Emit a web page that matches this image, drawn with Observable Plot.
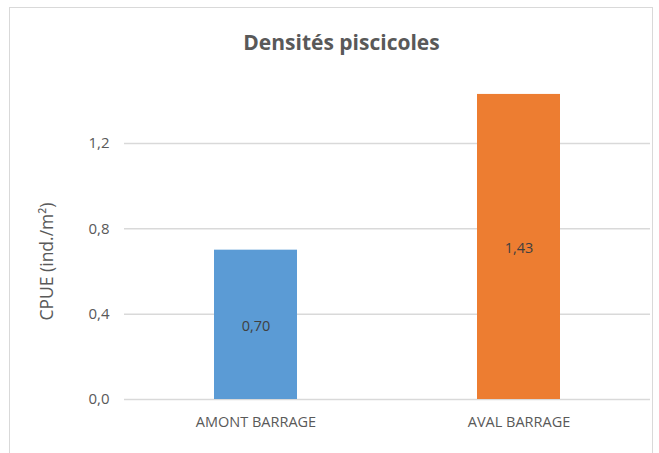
<!DOCTYPE html>
<html><head><meta charset="utf-8">
<script src="https://cdn.jsdelivr.net/npm/d3@7"></script>
<script src="https://cdn.jsdelivr.net/npm/@observablehq/plot@0.6"></script>
<style>
html,body{margin:0;padding:0;background:#fff;}
#wrap{position:relative;width:659px;height:453px;overflow:hidden;font-family:"Open Sans",sans-serif;}
#frame{position:absolute;left:9px;top:7px;width:644px;height:470px;border:1.5px solid #d9d9d9;box-sizing:border-box;}
#chart{position:absolute;left:0;top:0;}
</style></head>
<body><div id="wrap"><div id="frame"></div><div id="chart"></div></div>
<script>
const categories = ["AMONT BARRAGE", "AVAL BARRAGE"];
const values = [0.70, 1.43];
const colors = ["#5B9BD5", "#ED7D31"];
const yTicks = [0, 0.4, 0.8, 1.2];
const title = "Densités piscicoles";
const yLabel = "CPUE (ind./m²)";

const data = categories.map((c, i) => ({cat: c, v: values[i], col: colors[i]}));
const fmt = v => d3.format(".2f")(v).replace(".", ",");
const fmtTick = v => d3.format(".1f")(v).replace(".", ",");

const plot = Plot.plot({
  width: 659, height: 453,
  marginLeft: 124, marginRight: 9, marginTop: 79, marginBottom: 54,
  style: {fontFamily: "Open Sans, sans-serif", background: "transparent", overflow: "visible"},
  x: {domain: categories, paddingInner: 0.685, paddingOuter: 0.34, label: null},
  y: {domain: [0, 1.5], label: null},
  marks: [
    Plot.ruleY(yTicks, {stroke: "#d9d9d9", strokeWidth: 1.5}),
    Plot.barY(data, {x: "cat", y: "v", fill: "col"}),
    Plot.text(data, {x: "cat", y: d => d.v / 2, text: d => fmt(d.v), dy: 1.5, fill: "#404040", fontSize: 14.5}),
    Plot.axisY(yTicks, {tickSize: 0, tickPadding: 15, tickFormat: fmtTick, fontSize: 15, color: "#595959", label: null}),
    Plot.axisX({tickSize: 0, tickPadding: 17, fontSize: 14.5, color: "#595959", label: null}),
    Plot.text([yLabel], {frameAnchor: "left", dx: -77, dy: 22, rotate: -90, textAnchor: "middle", fill: "#595959", fontSize: 17.5}),
    Plot.text([title], {frameAnchor: "top", dy: -36, dx: -46, lineAnchor: "middle", textAnchor: "middle", fill: "#595959", fontSize: 21, fontWeight: "bold"})
  ]
});
document.getElementById("chart").appendChild(plot);
</script></body></html>
